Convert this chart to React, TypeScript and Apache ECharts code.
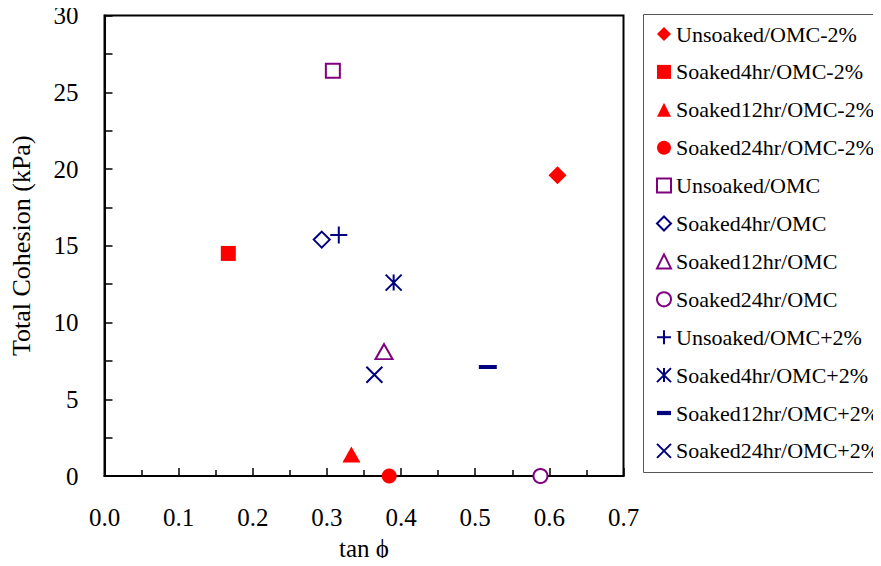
import React, { useEffect, useRef } from "react";
import * as echarts from "echarts";

const seriesNames = [
  "Unsoaked/OMC-2%",
  "Soaked4hr/OMC-2%",
  "Soaked12hr/OMC-2%",
  "Soaked24hr/OMC-2%",
  "Unsoaked/OMC",
  "Soaked4hr/OMC",
  "Soaked12hr/OMC",
  "Soaked24hr/OMC",
  "Unsoaked/OMC+2%",
  "Soaked4hr/OMC+2%",
  "Soaked12hr/OMC+2%",
  "Soaked24hr/OMC+2%",
];
const tanPhi = [0.611, 0.167, 0.333, 0.384, 0.308, 0.293, 0.377, 0.588, 0.316, 0.39, 0.517, 0.364];
const cohesion = [19.6, 14.5, 1.4, 0, 26.4, 15.4, 8.1, 0, 15.7, 12.6, 7.1, 6.6];

const RED = "#ff0000";
const PURPLE = "#800080";
const NAVY = "#000080";
const NONE = "rgba(0,0,0,0)";

type Mk = { symbol: string; size: number | number[]; fill: string; stroke?: string; bw?: number; icon?: string };
const markers: Mk[] = [
  { symbol: "diamond", size: 18, fill: RED },
  { symbol: "rect", size: 15, fill: RED },
  { symbol: "triangle", size: [18, 16], fill: RED },
  { symbol: "circle", size: 15, fill: RED },
  { symbol: "rect", size: 14, fill: "#fff", stroke: PURPLE, bw: 2 },
  { symbol: "diamond", size: 16, fill: "#fff", stroke: NAVY, bw: 2 },
  { symbol: "triangle", size: [17, 15], fill: "#fff", stroke: PURPLE, bw: 2 },
  { symbol: "circle", size: 14, fill: "#fff", stroke: PURPLE, bw: 2 },
  { symbol: "path://M0,5L10,5M5,0L5,10", size: 17, fill: NONE, stroke: NAVY, bw: 2 },
  { symbol: "path://M0,0L10,10M10,0L0,10M5,0L5,10", size: 16, fill: NONE, stroke: NAVY, bw: 2 },
  { symbol: "rect", size: [18, 4], fill: NAVY, icon: "path://M0,0H10V3H0Z" },
  { symbol: "path://M0,0L10,10M10,0L0,10", size: 16, fill: NONE, stroke: NAVY, bw: 2 },
];

const FONT = '"Times New Roman", "Liberation Serif", serif';

export default function App() {
  const ref = useRef<HTMLDivElement>(null);
  useEffect(() => {
    if (!ref.current) return;
    const chart = echarts.init(ref.current, null, { renderer: "svg" });
    const series = seriesNames.map((name, i) => {
      const m = markers[i];
      return {
        name,
        type: "scatter",
        clip: false,
        symbol: m.symbol,
        symbolSize: m.size,
        itemStyle: {
          color: m.fill,
          borderColor: m.stroke || m.fill,
          borderWidth: m.bw || 0,
          opacity: 1,
        },
        emphasis: { disabled: true },
        data: [[tanPhi[i], cohesion[i]]],
      };
    });
    chart.setOption({
      animation: false,
      backgroundColor: "#fff",
      textStyle: { fontFamily: FONT },
      grid: {
        left: 104.5,
        top: 15.5,
        width: 519,
        height: 461.5,
        show: true,
        borderColor: "#000",
        borderWidth: 2,
        backgroundColor: "transparent",
      },
      xAxis: {
        type: "value",
        min: 0,
        max: 0.7,
        interval: 0.1,
        name: "tan \u03d5",
        nameLocation: "middle",
        nameGap: 60,
        nameTextStyle: { fontFamily: FONT, fontSize: 25, color: "#000" },
        axisLine: { show: true, onZero: false, lineStyle: { color: "#000", width: 2 } },
        axisTick: { show: true, inside: true, length: 8, lineStyle: { color: "#000", width: 1.5 } },
        minorTick: { show: true, splitNumber: 2, length: 6, lineStyle: { color: "#000", width: 1.5 } },
        splitLine: { show: false },
        axisLabel: {
          fontFamily: FONT,
          fontSize: 25,
          color: "#000",
          margin: 29,
          formatter: (v: number) => v.toFixed(1),
        },
      },
      yAxis: {
        type: "value",
        min: 0,
        max: 30,
        interval: 5,
        name: "Total Cohesion (kPa)",
        nameLocation: "middle",
        nameGap: 70,
        nameTextStyle: { fontFamily: FONT, fontSize: 26, color: "#000" },
        axisLine: { show: true, onZero: false, lineStyle: { color: "#000", width: 2 } },
        axisTick: { show: true, inside: true, length: 8, lineStyle: { color: "#000", width: 1.5 } },
        minorTick: { show: true, splitNumber: 2, length: 8, lineStyle: { color: "#000", width: 1.5 } },
        splitLine: { show: false },
        axisLabel: { fontFamily: FONT, fontSize: 25, color: "#000", margin: 26 },
      },
      legend: {
        orient: "vertical",
        left: 643,
        top: 14,
        padding: [9, 4, 12, 13],
        itemGap: 15.9,
        itemWidth: 14,
        itemHeight: 14,
        selectedMode: false,
        borderWidth: 0,
        textStyle: { fontFamily: FONT, fontSize: 22, lineHeight: 22, color: "#000" },
        data: seriesNames.map((name, i) =>
          markers[i].icon ? { name, icon: markers[i].icon } : { name }
        ),
      },
      graphic: [
        {
          type: "rect",
          shape: { x: 643.5, y: 14.5, width: 236, height: 458 },
          style: { fill: "none", stroke: "#555", lineWidth: 1 },
          silent: true,
        },
      ],
      series,
    });
    return () => chart.dispose();
  }, []);
  return <div ref={ref} style={{ width: 881, height: 566, margin: -8 }} />;
}
